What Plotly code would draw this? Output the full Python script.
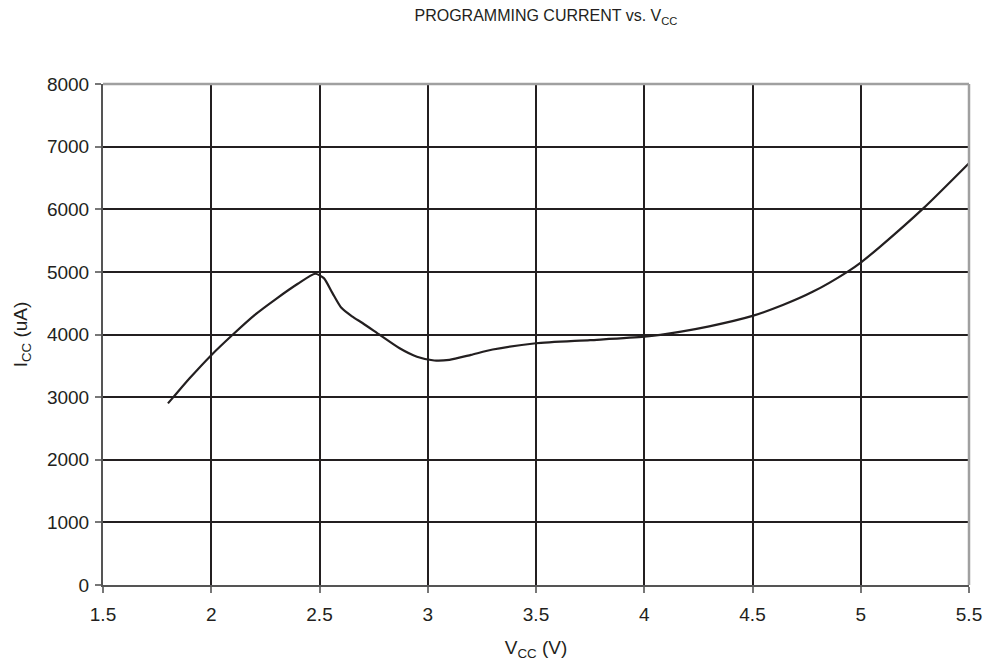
import plotly.graph_objects as go

vcc = [1.8, 1.825, 1.9, 2.0, 2.1, 2.2, 2.3, 2.4, 2.48, 2.52, 2.56, 2.6, 2.65, 2.7, 2.78, 2.87,
       2.95, 3.03, 3.1, 3.2, 3.3, 3.5, 3.75, 4.0, 4.17, 4.3, 4.5, 4.64, 4.78, 4.94, 5.0,
       5.09, 5.29, 5.5]
icc = [2900, 3000, 3300, 3670, 4000, 4310, 4570, 4810, 4970, 4900, 4660, 4430, 4290, 4180, 3990, 3780,
       3645, 3585, 3595, 3675, 3760, 3860, 3910, 3965, 4047, 4130, 4297, 4470, 4685, 5005, 5149,
       5404, 6018, 6736]

x_ticks = [1.5, 2, 2.5, 3, 3.5, 4, 4.5, 5, 5.5]
x_ticklabels = ["1.5", "2", "2.5", "3", "3.5", "4", "4.5", "5", "5.5"]
y_ticks = [0, 1000, 2000, 3000, 4000, 5000, 6000, 7000, 8000]

fig = go.Figure()
fig.add_trace(go.Scatter(
    x=vcc, y=icc, mode="lines",
    line=dict(color="#231f20", width=2.2, shape="spline", smoothing=0.6),
    showlegend=False, hoverinfo="skip",
))

font_family = "Liberation Sans, Arial, sans-serif"
fig.update_layout(
    width=986, height=656,
    margin=dict(l=95, r=25, t=76, b=79, autoexpand=False),
    paper_bgcolor="white", plot_bgcolor="white",
    font=dict(family=font_family, color="#231f20", size=19),
    title=dict(text="PROGRAMMING CURRENT vs. V<sub>CC</sub>", x=0.5115, xref="paper", xanchor="center",
               y=0.9885, yref="container", yanchor="middle", pad=dict(t=0, b=0),
               font=dict(size=16, color="#231f20"), automargin=False),
    xaxis=dict(
        range=[1.5, 5.5], tickvals=x_ticks, ticktext=x_ticklabels,
        showgrid=True, gridcolor="#231f20", gridwidth=2,
        showline=True, linecolor="#555555", linewidth=2,
        ticks="outside", ticklen=6, tickcolor="#777777", tickwidth=1.5,
        ticklabelstandoff=5, automargin=False,
        zeroline=False,
        title=dict(text="V<sub>CC</sub> (V)", standoff=17, font=dict(size=19)),
        tickfont=dict(size=19),
    ),
    yaxis=dict(
        range=[0, 8000], tickvals=y_ticks,
        showgrid=True, gridcolor="#231f20", gridwidth=2,
        showline=True, linecolor="#555555", linewidth=2,
        ticks="outside", ticklen=6, tickcolor="#777777", tickwidth=1.5,
        ticklabelstandoff=2, automargin=False,
        zeroline=False,
        title=dict(text="I<sub>CC</sub> (uA)", standoff=14, font=dict(size=19)),
        tickfont=dict(size=19),
    ),
    shapes=[
        dict(type="line", xref="paper", yref="paper", x0=0, x1=1, y0=1, y1=1,
             line=dict(color="#a0a0a0", width=2.5)),
        dict(type="line", xref="paper", yref="paper", x0=1, x1=1, y0=0, y1=1,
             line=dict(color="#a0a0a0", width=2.5)),
    ],
)

fig.write_html("out.html")
